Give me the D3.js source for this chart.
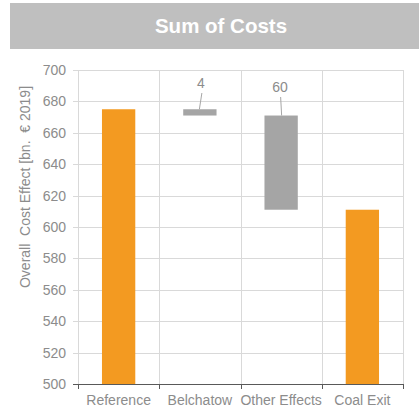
<!DOCTYPE html>
<html>
<head>
<meta charset="utf-8">
<script src="https://cdn.jsdelivr.net/npm/d3@7"></script>
<style>
  html, body { margin: 0; padding: 0; background: #fff; }
  svg { display: block; font-family: "Liberation Sans", Arial, sans-serif; }
</style>
</head>
<body>
<svg id="chart" width="419" height="412"></svg>
<script>
// Waterfall: start value, changes, end value
const categories = ["Reference", "Belchatow", "Other Effects", "Coal Exit"];
const barKinds = ["total", "delta", "delta", "total"];
const barValues = [675, -4, -60, 611];
const deltaLabels = ["", "4", "60", ""];
const yTicks = [500, 520, 540, 560, 580, 600, 620, 640, 660, 680, 700];

const svg = d3.select("#chart");
const W = 419, H = 412;
const margin = { left: 78, right: 16, top: 70, bottom: 28 };
const plotRight = W - margin.right;
const plotBottom = H - margin.bottom;

// Title banner
svg.append("rect").attr("x", 10).attr("y", 3).attr("width", W - 10).attr("height", 46)
  .attr("fill", "#bfbfbf");
svg.append("text").attr("x", 221).attr("y", 26).attr("dy", "0.35em")
  .attr("text-anchor", "middle").attr("fill", "#fff")
  .attr("font-size", 20.5).attr("font-weight", "bold").text("Sum of Costs");

const x = d3.scaleBand().domain(categories).range([margin.left, plotRight])
  .paddingInner(0).paddingOuter(0);
const y = d3.scaleLinear().domain([500, 700]).range([plotBottom, margin.top]);

// Compute running bar extents
let running = 0;
const bars = categories.map((c, i) => {
  let lo, hi;
  if (barKinds[i] === "total") {
    lo = 500; hi = barValues[i]; running = barValues[i];
  } else {
    const next = running + barValues[i];
    lo = Math.min(running, next); hi = Math.max(running, next);
    running = next;
  }
  return { cat: c, lo, hi, kind: barKinds[i], label: deltaLabels[i] };
});

// Horizontal grid
svg.append("g").selectAll("line").data(yTicks.filter(t => t > 500)).join("line")
  .attr("x1", margin.left - 5).attr("x2", plotRight)
  .attr("y1", d => Math.round(y(d)) + 0.5).attr("y2", d => Math.round(y(d)) + 0.5)
  .attr("stroke", "#d9d9d9").attr("stroke-width", 1);

// Vertical grid at category boundaries
const bounds = categories.map(c => x(c)).concat([plotRight]);
svg.append("g").selectAll("line").data(bounds).join("line")
  .attr("x1", d => Math.round(d) + 0.5).attr("x2", d => Math.round(d) + 0.5)
  .attr("y1", margin.top).attr("y2", plotBottom)
  .attr("stroke", "#d9d9d9").attr("stroke-width", 1);

// Y tick labels
svg.append("g").selectAll("text").data(yTicks).join("text")
  .attr("x", 66).attr("y", d => y(d)).attr("dy", "0.35em")
  .attr("text-anchor", "end").attr("fill", "#8c8c8c").attr("font-size", 14)
  .text(d => d);

// Y axis title
svg.append("text")
  .attr("transform", "translate(25,187) rotate(-90)")
  .attr("text-anchor", "middle").attr("dy", "0.35em")
  .attr("fill", "#8c8c8c").attr("font-size", 14)
  .style("white-space", "pre")
  .text("Overall  Cost Effect [bn.  € 2019]");

// Bars
const bw = x.bandwidth() * 0.41;
svg.append("g").selectAll("rect").data(bars).join("rect")
  .attr("x", d => x(d.cat) + (x.bandwidth() - bw) / 2)
  .attr("width", bw)
  .attr("y", d => y(d.hi))
  .attr("height", d => y(d.lo) - y(d.hi))
  .attr("fill", d => d.kind === "total" ? "#f39a21" : "#a5a5a5");

// Delta labels with leader lines (label placement relative to the bar centre)
const lbl = bars.filter(d => d.label);
const labelPos = {
  "Belchatow":     { tx: 1,  ty: 83, lx1: 2,  lx2: -0.5 },
  "Other Effects": { tx: -1, ty: 87, lx1: -0.5, lx2: 0.5 }
};
const cx = d => x(d.cat) + x.bandwidth() / 2;
svg.append("g").selectAll("line").data(lbl).join("line")
  .attr("x1", d => cx(d) + labelPos[d.cat].lx1)
  .attr("y1", d => labelPos[d.cat].ty + 10)
  .attr("x2", d => cx(d) + labelPos[d.cat].lx2)
  .attr("y2", d => y(d.hi))
  .attr("stroke", "#a6a6a6").attr("stroke-width", 1);
svg.append("g").selectAll("text").data(lbl).join("text")
  .attr("x", d => cx(d) + labelPos[d.cat].tx)
  .attr("y", d => labelPos[d.cat].ty).attr("dy", "0.35em")
  .attr("text-anchor", "middle").attr("fill", "#8c8c8c").attr("font-size", 14)
  .text(d => d.label);

// X axis baseline with ticks
const xAxis = svg.append("g");
xAxis.append("line").attr("x1", margin.left - 5).attr("x2", plotRight + 1)
  .attr("y1", Math.round(plotBottom) + 0.5).attr("y2", Math.round(plotBottom) + 0.5)
  .attr("stroke", "#595959").attr("stroke-width", 1);
xAxis.selectAll("line.tk").data(bounds).join("line").attr("class", "tk")
  .attr("x1", d => Math.round(d) + 0.5).attr("x2", d => Math.round(d) + 0.5)
  .attr("y1", plotBottom).attr("y2", plotBottom + 5)
  .attr("stroke", "#595959");
xAxis.selectAll("text").data(categories).join("text")
  .attr("x", d => x(d) + x.bandwidth() / 2).attr("y", 400).attr("dy", "0.35em")
  .attr("text-anchor", "middle").attr("fill", "#8c8c8c").attr("font-size", 14)
  .text(d => d);
</script>
</body>
</html>
